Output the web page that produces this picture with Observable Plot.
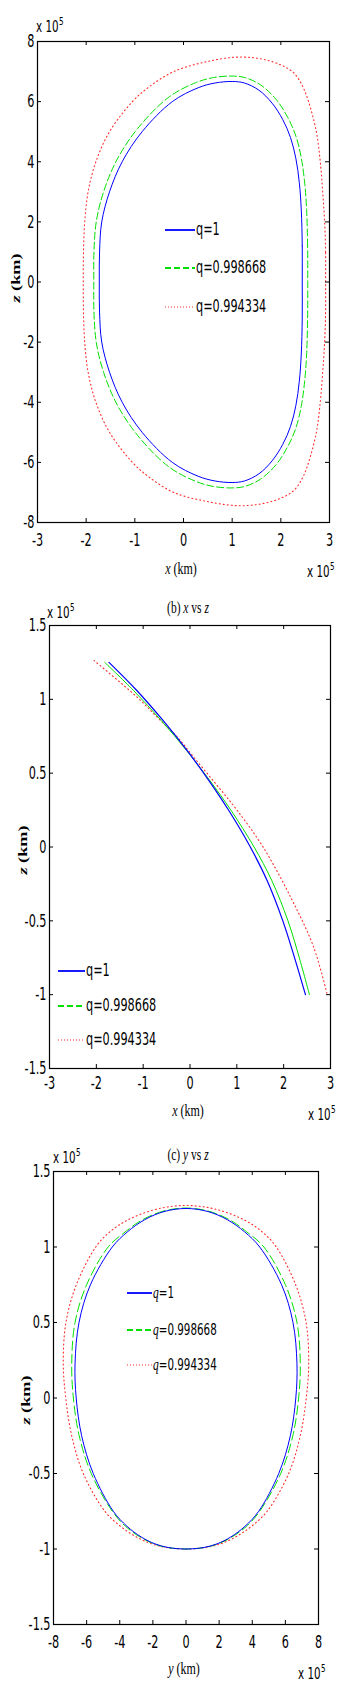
<!DOCTYPE html>
<html>
<head>
<meta charset="utf-8">
<script src="https://cdn.jsdelivr.net/npm/d3@7"></script>
<script src="https://cdn.jsdelivr.net/npm/@observablehq/plot@0.6"></script>
<style>
html, body { margin:0; padding:0; background:#fff; }
#page { position:relative; width:356px; height:1704px; overflow:hidden; background:#fff; }
.panel { position:absolute; left:0; }
.ann { position:absolute; white-space:nowrap; line-height:1; color:#000; }
.sans { font-family:"Liberation Sans Narrow","Arial Narrow","DejaVu Sans Condensed","Liberation Sans",sans-serif; }
.serif { font-family:"Liberation Serif","DejaVu Serif",serif; }
.sup { font-size:8px; position:relative; top:-5px; margin-left:0.5px; }
</style>
</head>
<body>
<div id="page"></div>
<script>
// ---------------- DATA (values in units of 10^5 km) ----------------
const qLabels = ["q=1", "q=0.998668", "q=0.994334"];
const seriesColors = ["#0000ff", "#00e000", "#ff2a2a"];

// Panel (a): closed orbits [x, z]
const aBlue = [[2.44,0],[2.44,1.2],[2.42,2.4],[2.38,3.3],[2.31,4.1],[2.20,4.8],[2.04,5.4],[1.82,5.95],[1.55,6.38],[1.25,6.62],[1.00,6.67],[0.65,6.62],[0.30,6.46],[-0.23,6.0],[-0.85,5],[-1.26,4],[-1.52,3],[-1.68,2],[-1.725,1],[-1.73,0],[-1.725,-1],[-1.68,-2],[-1.52,-3],[-1.26,-4],[-0.85,-5],[-0.23,-6.0],[0.30,-6.46],[0.65,-6.62],[1.00,-6.67],[1.25,-6.62],[1.55,-6.38],[1.82,-5.95],[2.04,-5.4],[2.20,-4.8],[2.31,-4.1],[2.38,-3.3],[2.42,-2.4],[2.44,-1.2]];
const aGreen = [[2.553,0],[2.55,1.2],[2.53,2.4],[2.49,3.3],[2.42,4.13],[2.31,4.85],[2.14,5.48],[1.90,6.08],[1.58,6.56],[1.26,6.80],[1.00,6.85],[0.616,6.80],[0.25,6.63],[-0.30,6.15],[-0.94,5.11],[-1.36,4.09],[-1.63,3.06],[-1.79,2.03],[-1.84,1],[-1.843,0],[-1.84,-1],[-1.79,-2.03],[-1.63,-3.06],[-1.36,-4.09],[-0.94,-5.11],[-0.30,-6.15],[0.25,-6.63],[0.616,-6.80],[1.00,-6.85],[1.26,-6.80],[1.58,-6.56],[1.90,-6.08],[2.14,-5.48],[2.31,-4.85],[2.42,-4.13],[2.49,-3.3],[2.53,-2.4],[2.55,-1.2]];
const aRed = [[2.92,0],[2.92,1],[2.90,2],[2.86,3],[2.81,4],[2.73,5],[2.57,6.0],[2.45,6.5],[2.27,6.95],[2.00,7.22],[1.60,7.42],[1.10,7.48],[0.45,7.32],[-0.20,7.0],[-0.70,6.5],[-1.05,6.0],[-1.52,5.0],[-1.80,4.0],[-1.96,3.0],[-2.03,2.0],[-2.055,1.0],[-2.06,0],[-2.055,-1.0],[-2.03,-2.0],[-1.96,-3.0],[-1.80,-4.0],[-1.52,-5.0],[-1.05,-6.0],[-0.70,-6.5],[-0.20,-7.0],[0.45,-7.29],[1.10,-7.44],[1.60,-7.38],[2.00,-7.19],[2.27,-6.93],[2.45,-6.5],[2.57,-6.0],[2.73,-5],[2.81,-4],[2.86,-3],[2.90,-2],[2.92,-1]];

// Panel (b): open arcs [x, z]
const bBlue = [[-1.73,1.25],[-1.136,1.06],[-0.576,0.857],[-0.064,0.654],[0.404,0.45],[0.829,0.247],[1.288,0],[1.646,-0.227],[1.982,-0.5],[2.251,-0.769],[2.465,-1.0]];
const bGreen = [[-1.82,1.25],[-1.206,1.06],[-0.616,0.857],[-0.074,0.654],[0.424,0.45],[0.879,0.247],[1.368,0],[1.746,-0.227],[2.092,-0.5],[2.351,-0.769],[2.55,-1.0]];
const bRed = [[-2.05,1.263],[-1.13,1.015],[-0.70,0.879],[-0.27,0.744],[0.08,0.608],[0.545,0.43],[1.01,0.247],[1.56,0],[2.15,-0.34],[2.64,-0.678],[2.93,-1.0]];

// Panel (c): closed orbits [y, z]
const cBlue = [[0,1.255],[-1.32,1.235],[-2.51,1.18],[-3.54,1.10],[-4.45,1.0],[-5.77,0.75],[-6.46,0.5],[-6.70,0.226],[-6.63,0],[-6.30,-0.25],[-5.60,-0.5],[-4.39,-0.75],[-3.56,-0.85],[-2.71,-0.92],[-1.87,-0.966],[-1.08,-0.99],[0,-1.0],[1.08,-0.99],[1.87,-0.966],[2.71,-0.92],[3.56,-0.85],[4.39,-0.75],[5.60,-0.5],[6.30,-0.25],[6.63,0],[6.70,0.226],[6.46,0.5],[5.77,0.75],[4.45,1.0],[3.54,1.10],[2.51,1.18],[1.32,1.235]];
const cGreen = [[0,1.258],[-1.34,1.238],[-2.64,1.18],[-3.67,1.10],[-4.70,1.0],[-6.00,0.75],[-6.70,0.5],[-6.90,0.226],[-6.80,0],[-6.45,-0.25],[-5.72,-0.5],[-4.45,-0.75],[-3.65,-0.85],[-2.78,-0.92],[-1.93,-0.966],[-1.12,-0.99],[0,-1.0],[1.12,-0.99],[1.93,-0.966],[2.78,-0.92],[3.65,-0.85],[4.45,-0.75],[5.72,-0.5],[6.45,-0.25],[6.80,0],[6.90,0.226],[6.70,0.5],[6.00,0.75],[4.70,1.0],[3.67,1.10],[2.64,1.18],[1.34,1.238]];
const cRed = [[0,1.275],[-1.80,1.25],[-3.50,1.18],[-4.60,1.10],[-5.45,1.0],[-6.62,0.75],[-7.25,0.5],[-7.41,0.226],[-7.26,0],[-6.90,-0.25],[-6.20,-0.5],[-4.90,-0.75],[-3.95,-0.85],[-3.00,-0.92],[-2.07,-0.966],[-1.20,-0.99],[0,-1.0],[1.20,-0.99],[2.07,-0.966],[3.00,-0.92],[3.95,-0.85],[4.90,-0.75],[6.20,-0.5],[6.90,-0.25],[7.26,0],[7.41,0.226],[7.25,0.5],[6.62,0.75],[5.45,1.0],[4.60,1.10],[3.50,1.18],[1.80,1.25]];

// Tick values
const aTicksX = [-3,-2,-1,0,1,2,3];
const aTicksY = [-8,-6,-4,-2,0,2,4,6,8];
const bTicksX = [-3,-2,-1,0,1,2,3];
const bTicksY = [-1.5,-1,-0.5,0,0.5,1,1.5];
const cTicksX = [-8,-6,-4,-2,0,2,4,6,8];
const cTicksY = [-1.5,-1,-0.5,0,0.5,1,1.5];

// ---------------- RENDERING ----------------
const SANS = '"Liberation Sans Narrow","Arial Narrow","DejaVu Sans Condensed","Liberation Sans",sans-serif';
const STRETCH = 1.4;
const page = document.getElementById("page");

function stretchText(svg) {
  svg.querySelectorAll("text").forEach(t => {
    const bb = t.getBBox();
    const cy = bb.y + bb.height / 2;
    const tr = t.getAttribute("transform") || "";
    t.setAttribute("transform", `${tr} translate(0,${cy}) scale(1,${STRETCH}) translate(0,${-cy})`);
  });
}

function panel(cfg) {
  const fw = cfg.width - cfg.ml - cfg.mr, fh = cfg.height - cfg.mt - cfg.mb, tk = 4;
  const lines = cfg.series.map(s => Plot.line(s.data, {
    x: d => d[0], y: d => d[1], stroke: s.color, strokeWidth: s.width,
    strokeDasharray: s.dash, curve: cfg.curve
  }));
  const svg = Plot.plot({
    width: cfg.width, height: cfg.height,
    marginLeft: cfg.ml, marginRight: cfg.mr, marginTop: cfg.mt, marginBottom: cfg.mb,
    x: {domain: cfg.xDomain, label: null},
    y: {domain: cfg.yDomain, label: null},
    style: {fontFamily: SANS, fontSize: "12.5px", color: "#000", background: "transparent", overflow: "visible"},
    marks: [
      ...lines,
      Plot.tickX(cfg.xTicks, {x: d => d, insetTop: fh - tk, stroke: "#000"}),
      Plot.tickX(cfg.xTicks, {x: d => d, insetBottom: fh - tk, stroke: "#000"}),
      Plot.tickY(cfg.yTicks, {y: d => d, insetRight: fw - tk, stroke: "#000"}),
      Plot.tickY(cfg.yTicks, {y: d => d, insetLeft: fw - tk, stroke: "#000"}),
      Plot.frame({stroke: "#000", strokeWidth: 1.2}),
      Plot.axisX(cfg.xTicks, {anchor: "bottom", tickSize: 0, tickPadding: cfg.xPad, tickFormat: d => String(d), label: null}),
      Plot.axisY(cfg.yTicks, {anchor: "left", tickSize: 0, tickPadding: cfg.yPad, tickFormat: d => String(d), label: null})
    ]
  });
  const holder = document.createElement("div");
  holder.className = "panel";
  holder.style.top = cfg.top + "px";
  holder.appendChild(svg);
  page.appendChild(holder);
  stretchText(svg);
}

function ann(html, x, y, cls, align, size, extra) {
  const d = document.createElement("div");
  d.className = "ann " + cls;
  d.innerHTML = html;
  d.style.left = x + "px";
  d.style.top = y + "px";
  d.style.fontSize = size + "px";
  const tx = align === "left" ? "0" : align === "right" ? "-100%" : "-50%";
  d.style.transform = `translate(${tx},-50%) ${extra || `scaleY(${STRETCH})`}`;
  page.appendChild(d);
  return d;
}

function legend(rows, x0, x1, xt, size, italicQ, styles) {
  rows.forEach((yc, i) => {
    const s = styles[i];
    const sw = d3.create("svg").attr("width", x1 - x0).attr("height", 6)
      .style("position", "absolute").style("left", x0 + "px").style("top", (yc - 3) + "px");
    sw.append("line").attr("x1", 0).attr("x2", x1 - x0).attr("y1", 3).attr("y2", 3)
      .attr("stroke", s.color).attr("stroke-width", s.lw).attr("stroke-dasharray", s.dash);
    page.appendChild(sw.node());
    const label = qLabels[i];
    const html = italicQ ? `<span class="serif" style="font-style:italic">q</span>${label.slice(1)}` : label;
    ann(html, xt, yc, "sans", "left", size);
  });
}

const exp5 = `x 10<span class="sup">5</span>`;
const solid = {color: seriesColors[0], width: 1, dash: null};
const dashed = {color: seriesColors[1], width: 1, dash: "7,3"};
const dotted = {color: seriesColors[2], width: 1.1, dash: "1,3"};
const legendStyles = [
  {color: seriesColors[0], lw: 1.8, dash: null},
  {color: seriesColors[1], lw: 1.8, dash: "6,3"},
  {color: seriesColors[2], lw: 1.2, dash: "1,2"}
];
const ylab = (x, y) => ann(`<i>z</i> (km)`, x, y, "serif", "center", 13, `rotate(-90deg) scaleX(${STRETCH})`).style.fontWeight = "bold";

// Panel (a)
panel({
  top: 0, width: 356, height: 590, ml: 37, mr: 27, mt: 41, mb: 68,
  xDomain: [-3, 3], yDomain: [-8, 8], xTicks: aTicksX, yTicks: aTicksY,
  xPad: 13, yPad: 3, curve: "catmull-rom-closed",
  series: [{...dotted, data: aRed}, {...dashed, data: aGreen}, {...solid, data: aBlue}]
});
ann(exp5, 36, 27, "sans", "left", 11.5);
ann(exp5, 307, 572, "sans", "left", 11.5);
ann(`<i>x</i> (km)`, 181, 568, "serif", "center", 12);
ylab(15, 278);
legend([230, 268, 307], 165, 195, 196, 12.5, false, legendStyles);

// Panel (b)
panel({
  top: 590, width: 356, height: 540, ml: 49, mr: 26, mt: 35, mb: 62,
  xDomain: [-3, 3], yDomain: [-1.5, 1.5], xTicks: bTicksX, yTicks: bTicksY,
  xPad: 10, yPad: 3, curve: "catmull-rom",
  series: [{...dotted, data: bRed}, {color: seriesColors[1], width: 1, dash: null, data: bGreen}, {...solid, width: 1.2, data: bBlue}]
});
ann(`(b) <i>x</i> vs <i>z</i>`, 188, 608, "serif", "center", 11.5);
ann(exp5, 47, 613, "sans", "left", 11.5);
ann(`<i>x</i> (km)`, 188, 1110, "serif", "center", 12);
ann(exp5, 308, 1115, "sans", "left", 11.5);
ylab(22, 850);
legend([971, 1006, 1040], 58, 85, 86, 12.5, false, legendStyles);

// Panel (c)
panel({
  top: 1130, width: 356, height: 574, ml: 53, mr: 38, mt: 41, mb: 80,
  xDomain: [-8, 8], yDomain: [-1.5, 1.5], xTicks: cTicksX, yTicks: cTicksY,
  xPad: 13, yPad: 3, curve: "catmull-rom-closed",
  series: [{...dotted, data: cRed}, {...dashed, dash: "9,4", data: cGreen}, {...solid, data: cBlue}]
});
ann(`(c) <i>y</i> vs <i>z</i>`, 188, 1155, "serif", "center", 11.5);
ann(exp5, 53, 1158, "sans", "left", 11.5);
ann(`<i>y</i> (km)`, 184, 1668, "serif", "center", 12);
ann(exp5, 298, 1674, "sans", "left", 11.5);
ylab(25, 1400);
legend([1293, 1330, 1365], 127, 152, 153, 11.5, true, legendStyles);
</script>
</body>
</html>
